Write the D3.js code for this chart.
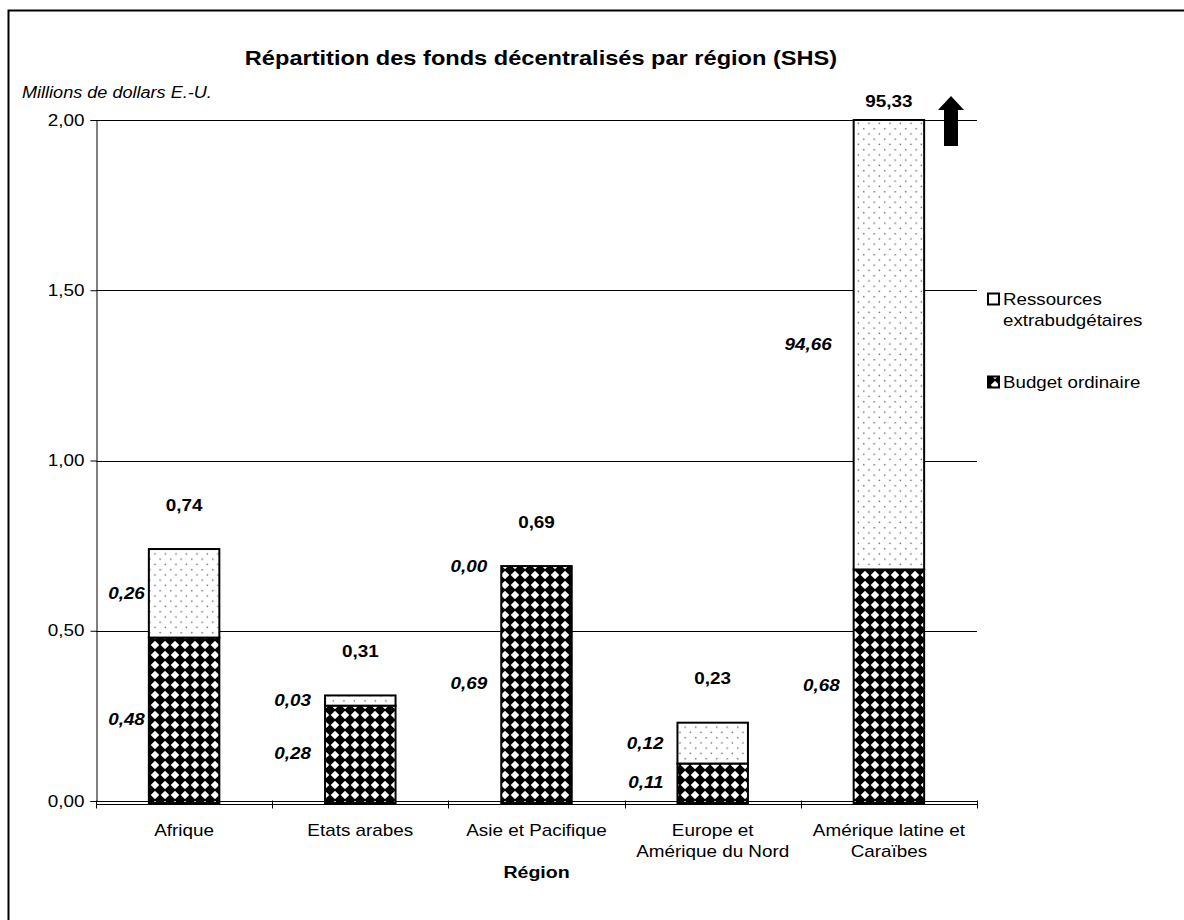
<!DOCTYPE html>
<html><head><meta charset="utf-8">
<script src="https://cdn.jsdelivr.net/npm/d3@7"></script>
<style>
html,body{margin:0;padding:0;background:#fff;}
svg text{font-family:"Liberation Sans",Arial,sans-serif;fill:#000;}
</style></head>
<body>
<svg id="chart" width="1184" height="920"></svg>
<script>
const categories = ["Afrique", "Etats arabes", "Asie et Pacifique", "Europe et\nAmérique du Nord", "Amérique latine et\nCaraïbes"];
const budgetOrdinaire = [0.48, 0.28, 0.69, 0.11, 0.68];
const extrabudgetaires = [0.26, 0.03, 0.00, 0.12, 94.66];
const totals = [0.74, 0.31, 0.69, 0.23, 95.33];
const yTicks = [0, 0.5, 1.0, 1.5, 2.0];
const seriesNames = ["Ressources\nextrabudgétaires", "Budget ordinaire"];
const title = "Répartition des fonds décentralisés par région (SHS)";
const yTitle = "Millions de dollars E.-U.";
const xTitle = "Région";

const fmt = v => d3.format(".2f")(v).replace(".", ",");
const svg = d3.select("#chart");
const SX = 1.18;

// stretched text helper
function label(parent, x, y, str, o = {}) {
  const g = parent.append("g").attr("transform", `translate(${x},${y}) scale(${o.sx || SX},1)`);
  const t = g.append("text").attr("text-anchor", o.anchor || "start")
    .style("font-size", (o.size || 16) + "px")
    .style("font-weight", o.weight || "normal")
    .style("font-style", o.style || "normal");
  str.split("\n").forEach((ln, k) => t.append("tspan").attr("x", 0).attr("y", k * (o.lh || 21)).attr("dy", "0.35em").text(ln));
  return g;
}

// frame
svg.append("rect").attr("x", 8.5).attr("y", 10.5).attr("width", 1300).attr("height", 1000)
  .attr("fill", "none").attr("stroke", "#000").attr("stroke-width", 2);

// patterns
const defs = svg.append("defs");
const dots = defs.append("pattern").attr("id", "dots").attr("patternUnits", "userSpaceOnUse")
  .attr("width", 10.5).attr("height", 10.5);
dots.append("rect").attr("width", 10.5).attr("height", 10.5).attr("fill", "#fff");
dots.append("rect").attr("x", 2).attr("y", 2).attr("width", 1.4).attr("height", 1.4).attr("fill", "#666");
dots.append("rect").attr("x", 7.25).attr("y", 7.25).attr("width", 1.4).attr("height", 1.4).attr("fill", "#666");

const T = 10;
const dia = defs.append("pattern").attr("id", "diam").attr("patternUnits", "userSpaceOnUse")
  .attr("width", T).attr("height", T).attr("x", 0).attr("y", 0);
dia.append("rect").attr("width", T).attr("height", T).attr("fill", "#fff");
const h = T / 2 + 0.8;
[[0, 0], [T, 0], [0, T], [T, T]].forEach(([cx, cy]) => {
  dia.append("path").attr("d", `M${cx},${cy - h}L${cx + h},${cy}L${cx},${cy + h}L${cx - h},${cy}Z`).attr("fill", "#000");
});

const margin = {left: 96, right: 977, top: 120, bottom: 801};
const x = d3.scaleBand().domain(categories).range([margin.left, margin.right]).paddingInner(0.6).paddingOuter(0.3);
const xb = d3.scaleBand().domain(categories).range([margin.left, margin.right]);
const yMax = 2.0;
const y = d3.scaleLinear().domain([0, yMax]).range([margin.bottom, margin.top]);

// gridlines
svg.append("g").selectAll("line").data(yTicks).join("line")
  .attr("x1", margin.left).attr("x2", margin.right)
  .attr("y1", d => Math.round(y(d)) + 0.5).attr("y2", d => Math.round(y(d)) + 0.5)
  .attr("stroke", "#000").attr("stroke-width", 1);

// y axis
const yAxis = d3.axisLeft(y).tickValues(yTicks).tickFormat(fmt).tickSize(6).tickPadding(6);
const gy = svg.append("g").attr("transform", `translate(${margin.left + 0.5},0)`).call(yAxis);
gy.select(".domain").attr("stroke", "#000");
gy.selectAll(".tick text")
  .attr("x", -12 / SX).attr("transform", `scale(${SX},1)`)
  .style("font-size", "16px").style("font-family", "Liberation Sans, Arial, sans-serif");

// x axis line (category axis, slightly below)
const gx = svg.append("g").attr("transform", `translate(0,${margin.bottom + 3.5})`);
gx.append("line").attr("x1", margin.left).attr("x2", margin.right).attr("stroke", "#000");
gx.selectAll("line.tk").data(categories.concat(["__end"])).join("line").attr("class", "tk")
  .attr("x1", (d, i) => i < categories.length ? Math.round(xb(d)) + 0.5 : margin.right + 0.5)
  .attr("x2", (d, i) => i < categories.length ? Math.round(xb(d)) + 0.5 : margin.right + 0.5)
  .attr("y1", -4).attr("y2", 4).attr("stroke", "#000");

// bars
const segs = categories.map((c, i) => {
  const b = budgetOrdinaire[i], e = extrabudgetaires[i];
  return {c, i, b, e, top: Math.min(b + e, yMax)};
});
const bars = svg.append("g");
bars.selectAll("rect.bud").data(segs).join("rect").attr("class", "bud")
  .attr("x", d => x(d.c)).attr("width", x.bandwidth())
  .attr("y", d => y(d.b)).attr("height", d => y(0) - y(d.b) + 2)
  .attr("fill", "url(#diam)").attr("stroke", "#000").attr("stroke-width", 2);
bars.selectAll("rect.ext").data(segs.filter(d => d.e > 0)).join("rect").attr("class", "ext")
  .attr("x", d => x(d.c)).attr("width", x.bandwidth())
  .attr("y", d => y(d.top)).attr("height", d => y(d.b) - y(d.top))
  .attr("fill", "url(#dots)").attr("stroke", "#000").attr("stroke-width", 2);

// total labels
const tl = svg.append("g");
segs.forEach((d, i) => {
  label(tl, x(d.c) + x.bandwidth() / 2, totals[i] > yMax ? y(yMax) - 19 : y(totals[i]) - 44, fmt(totals[i]),
    {anchor: "middle", weight: "bold"});
});

// segment labels
const sl = svg.append("g");
segs.forEach(d => {
  const off = d.i === 0 ? 4 : 14;
  label(sl, x(d.c) - off, y(d.b / 2), fmt(d.b), {anchor: "end", weight: "bold", style: "italic"});
  label(sl, x(d.c) - (d.e > 10 ? 22 : off), y((d.b + d.top) / 2), fmt(d.e), {anchor: "end", weight: "bold", style: "italic"});
});

// category labels
const cl = svg.append("g");
categories.forEach(c => label(cl, xb(c) + xb.bandwidth() / 2, 830, c, {anchor: "middle", lh: 21}));

// titles
label(svg, 541, 58, title, {anchor: "middle", size: 20, weight: "bold"});
label(svg, 22, 92, yTitle, {style: "italic", sx: 1.13});
label(svg, (margin.left + margin.right) / 2, 872, xTitle, {anchor: "middle", size: 17, weight: "bold", sx: 1.15});

// arrow (axis break indicator)
svg.append("path").attr("d", "M951,96 L964,110 L958,110 L958,146 L944,146 L944,110 L938,110 Z").attr("fill", "#000");

// legend
const lg = svg.append("g");
const legendItems = [{name: seriesNames[0], fill: "#fff", y: 299}, {name: seriesNames[1], fill: "url(#diam)", y: 382}];
legendItems.forEach(it => {
  lg.append("rect").attr("x", 988).attr("y", it.y - 5.5).attr("width", 11).attr("height", 11)
    .attr("fill", it.fill).attr("stroke", "#000").attr("stroke-width", 2);
  label(lg, 1003, it.y, it.name, {lh: 21, sx: 1.17});
});
</script>
</body></html>
